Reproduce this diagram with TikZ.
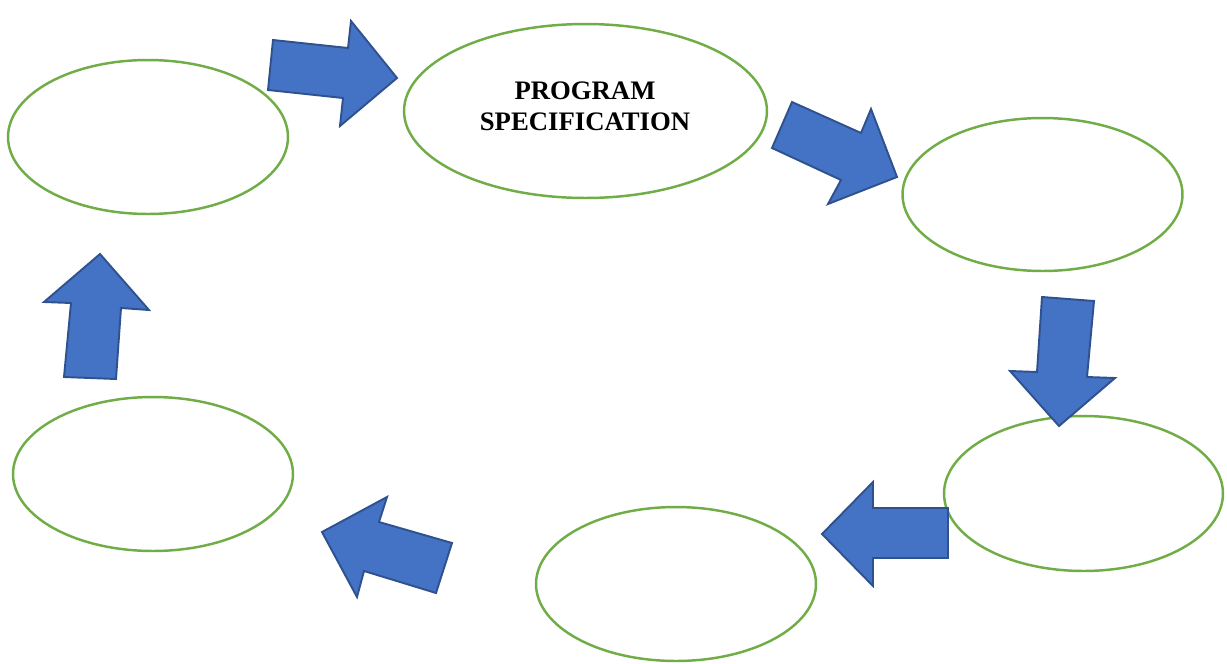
\documentclass[tikz,border=0pt]{standalone}
\usepackage{fontspec}
\setmainfont{Liberation Serif}
\usetikzlibrary{shapes.geometric}
\definecolor{ellgreen}{HTML}{70AD47}
\definecolor{arrfill}{HTML}{4472C4}
\definecolor{arrline}{HTML}{2F528F}
\tikzset{
  cyc/.style={ellipse, draw=ellgreen, line width=1.4pt, fill=white, inner sep=0pt, minimum width=5.6cm, minimum height=3.08cm},
  blockarrow/.style={fill=arrfill, draw=arrline, line width=1.1pt, line join=miter}
}
\begin{document}
\begin{tikzpicture}[x=0.02cm, y=-0.02cm]
\useasboundingbox (0,0) rectangle (1227,663);
% ellipses
\node[cyc] (e1) at (148,137) {};
\node[cyc, minimum width=7.26cm, minimum height=3.48cm] (e2) at (585.5,111) {};
\node[cyc, minimum height=3.06cm] (e3) at (1042.5,194.5) {};
\node[cyc, minimum width=5.58cm, minimum height=3.1cm] (e4) at (1083.5,493.5) {};
\node[cyc] (e5) at (676,584) {};
\node[cyc] (e6) at (153,474) {};
\node[align=center, font=\fontsize{15.2}{17.6}\selectfont\bfseries] (t2) at (585,106) {PROGRAM\\SPECIFICATION};
% block arrows
\draw[blockarrow] (273,40) -- (348,48) -- (351,21) -- (397,78) -- (340,126) -- (343,98) -- (268,90) -- cycle;
\draw[blockarrow] (792,102) -- (861,133) -- (871,109) -- (897,177) -- (828,204) -- (841,180) -- (772,148) -- cycle;
\draw[blockarrow] (1042,297) -- (1094,301) -- (1087,377) -- (1115,378) -- (1059,426) -- (1010,371) -- (1037,372) -- cycle;
\draw[blockarrow] (948,508) -- (873,508) -- (873,482) -- (822,534) -- (873,586) -- (873,558) -- (948,558) -- cycle;
\draw[blockarrow] (452,543) -- (379,522) -- (387,497) -- (322,532) -- (357,597) -- (364,571) -- (436,593) -- cycle;
\draw[blockarrow] (116,379) -- (121,308) -- (149,310) -- (100,254) -- (44,302) -- (71,303) -- (64,377) -- cycle;
\end{tikzpicture}
\end{document}
